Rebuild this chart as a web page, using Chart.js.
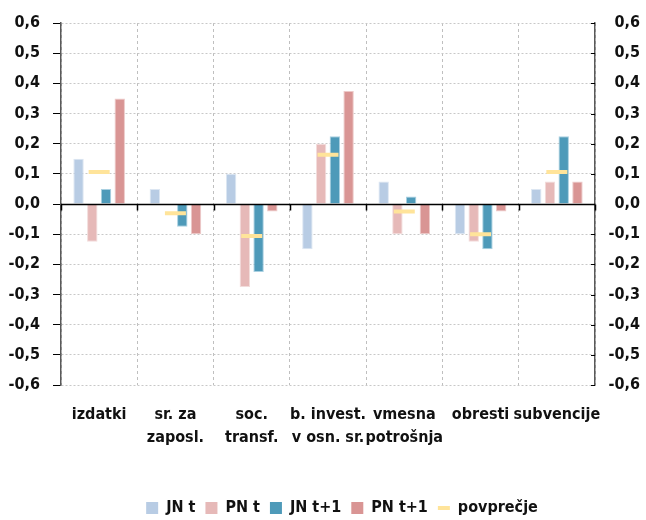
<!DOCTYPE html>
<html>
<head>
<meta charset="utf-8">
<script src="https://cdn.jsdelivr.net/npm/chart.js@4/dist/chart.umd.min.js"></script>
<style>
  html, body { margin: 0; padding: 0; background: #fff; }
  #wrap { width: 646px; height: 520px; position: relative; }
</style>
</head>
<body>
<div id="wrap"><canvas id="c" width="646" height="520"></canvas></div>
<script>
// Categories (multi-line labels)
const categories = [
  ['izdatki'],
  ['sr. za', 'zaposl.'],
  ['soc.', 'transf.'],
  ['b. invest.', 'v osn. sr.'],
  ['vmesna', 'potrošnja'],
  ['obresti'],
  ['subvencije']
];

// Series values
const jnT  = [0.15, 0.05, 0.10, -0.15, 0.075, -0.10, 0.05];
const pnT  = [-0.125, 0, -0.275, 0.20, -0.10, -0.125, 0.075];
const jnT1 = [0.05, -0.075, -0.225, 0.225, 0.025, -0.15, 0.225];
const pnT1 = [0.35, -0.10, -0.025, 0.375, -0.10, -0.025, 0.075];
const avg  = [0.106, -0.031, -0.106, 0.163, -0.025, -0.10, 0.106];

// Value axis
const yMin = -0.6;
const yMax = 0.6;
const yStep = 0.1;

const FONT = "'DejaVu Sans Condensed', 'DejaVu Sans', sans-serif";
const FONT_SIZE = 16;
const FONT_WEIGHT = 'bold';
const TEXT = '#111';

const fmt = v => (Math.abs(v) < 1e-9 ? 0 : v).toFixed(1).replace('.', ',');

// Zero line, category ticks on it, and inward ticks on the right axis
const axisMarks = {
  id: 'axisMarks',
  afterLayout(chart) {
    // legend row sits a little right of the canvas centre
    const lg = chart.legend;
    if (lg) { lg.left += 22; lg.right += 22; }
  },
  afterDatasetsDraw(chart) {
    const { ctx, chartArea: { left, right }, scales: { x, y, y2 } } = chart;
    const y0 = Math.round(y.getPixelForValue(0)) + 0.5;
    ctx.save();
    ctx.strokeStyle = '#000';
    ctx.lineWidth = 1.5;
    ctx.beginPath();
    ctx.moveTo(left, y0);
    ctx.lineTo(right, y0);
    ctx.stroke();

    const step = x.getPixelForValue(1) - x.getPixelForValue(0);
    ctx.beginPath();
    for (let i = 0; i <= categories.length; i++) {
      const px = Math.round(x.getPixelForValue(i) - step / 2) + 0.5;
      ctx.moveTo(px, y0);
      ctx.lineTo(px, y0 + 6);
    }
    ctx.stroke();

    ctx.lineWidth = 1;
    ctx.beginPath();
    y2.ticks.forEach(t => {
      const py = Math.round(y2.getPixelForValue(t.value)) + 0.5;
      ctx.moveTo(right - 4, py);
      ctx.lineTo(right, py);
    });
    ctx.stroke();
    ctx.restore();
  }
};

const barDs = (label, data, color, edge) => ({
  type: 'bar', label, data,
  backgroundColor: color, borderColor: edge, borderWidth: 1,
  categoryPercentage: 0.72, barPercentage: 0.76,
  yAxisID: 'y', order: 2
});

const font = { family: FONT, size: FONT_SIZE, weight: FONT_WEIGHT };

new Chart(document.getElementById('c'), {
  type: 'bar',
  data: {
    labels: categories,
    datasets: [
      barDs('JN t', jnT, '#B8CCE4', '#DCE6F2'),
      barDs('PN t', pnT, '#E6B9B8', '#F2DCDB'),
      barDs('JN t+1', jnT1, '#4E9AB9', '#A9D0E1'),
      barDs('PN t+1', pnT1, '#D99594', '#EDCAC9'),
      {
        type: 'line', label: 'povprečje', data: avg,
        showLine: false, yAxisID: 'y', order: 1,
        borderColor: '#FFE49A', backgroundColor: '#FFE49A',
        pointStyle: 'line', pointRadius: 10.5, pointBorderWidth: 4,
        pointBorderColor: '#FFE49A', pointHoverRadius: 10.5
      }
    ]
  },
  plugins: [axisMarks],
  options: {
    responsive: false,
    animation: false,
    events: [],
    layout: { padding: { top: 23, left: 0, right: 6, bottom: -6 } },
    plugins: {
      tooltip: { enabled: false },
      legend: {
        position: 'bottom',
        labels: {
          usePointStyle: true,
          pointStyleWidth: 12,
          boxHeight: 12,
          padding: 10,
          color: TEXT,
          font: { ...font },
          generateLabels(chart) {
            return chart.data.datasets.map((ds, i) => {
              const isLine = ds.type === 'line';
              return {
                text: ds.label,
                fillStyle: ds.backgroundColor,
                strokeStyle: isLine ? ds.borderColor : ds.backgroundColor,
                lineWidth: isLine ? 4 : 0,
                pointStyle: isLine ? 'line' : 'rect',
                fontColor: TEXT,
                hidden: false,
                datasetIndex: i
              };
            });
          }
        }
      }
    },
    scales: {
      x: {
        type: 'category',
        offset: true,
        grid: { offset: true, color: '#BFBFBF', lineWidth: 1, drawTicks: false },
        border: { display: false, dash: [3, 3] },
        ticks: {
          color: TEXT, padding: 18, maxRotation: 0, autoSkip: false,
          font: { ...font, lineHeight: 1.45 }
        },
        afterFit(s) { s.height = 105; s.paddingLeft = 0; s.paddingRight = 0; }
      },
      y: {
        position: 'left',
        min: yMin, max: yMax,
        grid: {
          color: '#C8C8C8', lineWidth: 1,
          tickColor: '#000', tickLength: 8, tickWidth: 1, tickBorderDash: []
        },
        border: { display: true, color: '#595959', width: 1.5, dash: [2, 2] },
        ticks: {
          stepSize: yStep, color: TEXT, padding: 13,
          font: { ...font },
          callback: v => fmt(v)
        },
        afterFit(s) { s.width = 61; s.paddingTop = 0; s.paddingBottom = 0; }
      },
      y2: {
        position: 'right',
        min: yMin, max: yMax,
        grid: { drawOnChartArea: false, drawTicks: false },
        border: { display: true, color: '#595959', width: 1.5 },
        ticks: {
          stepSize: yStep, color: TEXT, padding: 10, crossAlign: 'far',
          font: { ...font },
          callback: v => fmt(v)
        },
        afterFit(s) { s.width = 45; s.paddingTop = 0; s.paddingBottom = 0; }
      }
    }
  }
});
</script>
</body>
</html>
